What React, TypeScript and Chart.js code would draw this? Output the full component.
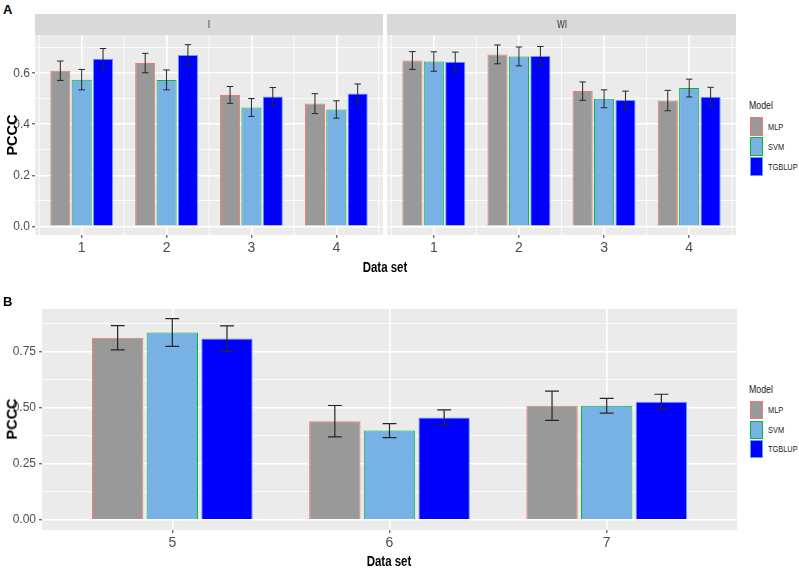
import React, { useEffect, useRef } from 'react';
import { Chart, registerables } from 'chart.js';

Chart.register(...registerables);

// ---------- data ----------
const modelNames = ['MLP', 'SVM', 'TGBLUP'];
const dataSetsA = [1, 2, 3, 4];
const dataSetsB = [5, 6, 7];

// Panel A, facet "I"
const mlpI = [0.61, 0.64, 0.515, 0.481];
const mlpIErr = [0.038, 0.038, 0.033, 0.039];
const svmI = [0.575, 0.574, 0.466, 0.458];
const svmIErr = [0.04, 0.039, 0.035, 0.034];
const tgblupI = [0.657, 0.672, 0.509, 0.521];
const tgblupIErr = [0.04, 0.04, 0.035, 0.037];

// Panel A, facet "WI"
const mlpWI = [0.65, 0.674, 0.53, 0.493];
const mlpWIErr = [0.035, 0.037, 0.036, 0.04];
const svmWI = [0.646, 0.666, 0.5, 0.542];
const svmWIErr = [0.038, 0.037, 0.035, 0.035];
const tgblupWI = [0.645, 0.668, 0.495, 0.508];
const tgblupWIErr = [0.038, 0.037, 0.035, 0.037];

// Panel B
const mlpB = [0.812, 0.44, 0.509];
const mlpBErr = [0.054, 0.07, 0.065];
const svmB = [0.835, 0.398, 0.509];
const svmBErr = [0.062, 0.031, 0.033];
const tgblupB = [0.808, 0.456, 0.527];
const tgblupBErr = [0.057, 0.034, 0.033];

// tick values / labels
const yTicksA = [0, 0.1, 0.2, 0.3, 0.4, 0.5, 0.6, 0.7];
const yLabelsA = ['0.0', '', '0.2', '', '0.4', '', '0.6', ''];
const xMinorA = [0.5, 1.5, 2.5, 3.5, 4.5];
const yTicksB = [0, 0.125, 0.25, 0.375, 0.5, 0.625, 0.75, 0.875];
const yLabelsB = ['0.00', '', '0.25', '', '0.50', '', '0.75', ''];
const xMinorB: number[] = [];

// ---------- styles ----------
const fillColors = ['#999999', '#78B2E4', '#0000FF'];
const borderColors = ['#F8766D', '#00BA38', '#619CFF'];
const SANS = "'Liberation Sans', Arial, sans-serif";

const panelPlugin = {
  id: 'panel',
  beforeDraw(chart: any) {
    const { ctx, chartArea: a } = chart;
    ctx.save();
    ctx.fillStyle = '#EBEBEB';
    ctx.fillRect(a.left, a.top, a.right - a.left, a.bottom - a.top);
    ctx.restore();
  },
  beforeDatasetsDraw(chart: any, _args: any, opts: any) {
    const { ctx, chartArea: a } = chart;
    const xScale = chart.scales.x;
    ctx.save();
    ctx.strokeStyle = '#FFFFFF';
    ctx.lineWidth = 0.8;
    (opts.xMinor || []).forEach((v: number) => {
      const x = xScale.getPixelForValue(v);
      ctx.beginPath();
      ctx.moveTo(x, a.top);
      ctx.lineTo(x, a.bottom);
      ctx.stroke();
    });
    ctx.restore();
  },
  afterDatasetsDraw(chart: any, _args: any, opts: any) {
    const { ctx } = chart;
    const yScale = chart.scales.y;
    ctx.save();
    ctx.strokeStyle = opts.color || '#262626';
    ctx.lineWidth = opts.lineWidth || 1;
    chart.data.datasets.forEach((ds: any, di: number) => {
      const meta = chart.getDatasetMeta(di);
      meta.data.forEach((el: any, i: number) => {
        const v = ds.data[i].y;
        const e = ds.errors[i];
        const yT = yScale.getPixelForValue(v + e);
        const yB = yScale.getPixelForValue(v - e);
        const half = (el.width * (opts.capRatio || 0.3)) / 2;
        const x = el.x;
        ctx.beginPath();
        ctx.moveTo(x, yT);
        ctx.lineTo(x, yB);
        ctx.moveTo(x - half, yT);
        ctx.lineTo(x + half, yT);
        ctx.moveTo(x - half, yB);
        ctx.lineTo(x + half, yB);
        ctx.stroke();
      });
    });
    ctx.restore();
  },
};

type PanelProps = {
  left: number; top: number; width: number; height: number;
  categories: number[]; values: number[][]; errors: number[][];
  xMin: number; xMax: number; xMinor: number[];
  yMin: number; yMax: number; yTicks: number[]; yLabels: string[];
  showY: boolean; yAxisWidth: number; xAxisHeight: number;
  yFont: number; xFont: number; yPad: number; capRatio: number; errWidth: number;
};

function BarPanel(p: PanelProps) {
  const ref = useRef<HTMLCanvasElement>(null);
  useEffect(() => {
    const chart = new Chart(ref.current as HTMLCanvasElement, {
      type: 'bar',
      data: {
        datasets: modelNames.map((name, k) => ({
          label: name,
          data: p.categories.map((c, i) => ({ x: c, y: p.values[k][i] })),
          errors: p.errors[k],
          backgroundColor: fillColors[k],
          borderColor: borderColors[k],
          borderWidth: 1,
          categoryPercentage: 0.755,
          barPercentage: 0.94,
        })) as any,
      },
      options: {
        animation: false,
        responsive: false,
        maintainAspectRatio: false,
        layout: { padding: 0 },
        plugins: {
          legend: { display: false },
          tooltip: { enabled: false },
          panel: { capRatio: p.capRatio, lineWidth: p.errWidth, color: '#262626', xMinor: p.xMinor },
        } as any,
        scales: {
          x: {
            type: 'linear',
            offset: false,
            min: p.xMin,
            max: p.xMax,
            afterBuildTicks: (s: any) => { s.ticks = p.categories.map((v) => ({ value: v })); },
            afterFit: (s: any) => { s.height = p.xAxisHeight; s.paddingLeft = 0; s.paddingRight = 0; },
            ticks: {
              autoSkip: false,
              maxRotation: 0,
              padding: 2,
              color: '#4D4D4D',
              font: { family: SANS, size: p.xFont },
              callback: (v: any) => String(v),
            },
            grid: {
              offset: false,
              color: '#FFFFFF',
              lineWidth: 1.6,
              tickColor: '#333333',
              tickLength: 3,
              tickWidth: 1,
            },
            border: { display: false },
          },
          y: {
            type: 'linear',
            min: p.yMin,
            max: p.yMax,
            afterBuildTicks: (s: any) => { s.ticks = p.yTicks.map((v) => ({ value: v })); },
            afterFit: (s: any) => { s.width = p.yAxisWidth; s.paddingTop = 0; s.paddingBottom = 0; },
            ticks: {
              display: p.showY,
              autoSkip: false,
              padding: p.yPad,
              color: '#4D4D4D',
              font: { family: SANS, size: p.yFont },
              callback: (_v: any, i: number) => p.yLabels[i],
            },
            grid: {
              color: '#FFFFFF',
              lineWidth: (c: any) => (c.index % 2 === 0 ? 1.6 : 0.8),
              tickColor: (c: any) => (c.index % 2 === 0 ? '#333333' : 'rgba(0,0,0,0)'),
              drawTicks: p.showY,
              tickLength: p.showY ? 3 : 0,
              tickWidth: 1,
            },
            border: { display: false },
          },
        },
      } as any,
      plugins: [panelPlugin as any],
    });
    return () => chart.destroy();
  }, []);
  return (
    <canvas
      ref={ref}
      width={p.width}
      height={p.height}
      style={{ position: 'absolute', left: p.left, top: p.top, width: p.width, height: p.height }}
    />
  );
}

function Txt(props: { x: number; y: number; text: string; size: number; bold?: boolean; color?: string; align?: 'left' | 'center'; rotate?: boolean; squeeze?: number }) {
  const { x, y, text, size, bold, color, align, rotate } = props;
  const sq = props.squeeze ?? 0.82;
  const base: React.CSSProperties = {
    position: 'absolute',
    left: x,
    top: y,
    fontFamily: SANS,
    fontSize: size,
    fontWeight: bold ? 'bold' : 'normal',
    color: color || '#000',
    whiteSpace: 'nowrap',
    lineHeight: 1,
  };
  let transform = `translate(0,-50%) scaleX(${sq})`;
  let origin = 'left center';
  if (align === 'center') { transform = `translate(-50%,-50%) scaleX(${sq})`; origin = 'center center'; }
  if (rotate) { transform = `translate(-50%,-50%) rotate(-90deg) scaleX(${sq})`; origin = 'center center'; }
  return <div style={{ ...base, transform, transformOrigin: origin }}>{text}</div>;
}

function Legend(props: { x: number; titleY: number; keyTop: number; keyH: number; gap: number }) {
  const { x, titleY, keyTop, keyH, gap } = props;
  return (
    <>
      <Txt x={x} y={titleY} text="Model" size={11} color="#1A1A1A" squeeze={0.8} />
      {modelNames.map((m, k) => (
        <React.Fragment key={m}>
          <div
            style={{
              position: 'absolute',
              left: x + 1,
              top: keyTop + k * (keyH + gap),
              width: 13,
              height: keyH,
              boxSizing: 'border-box',
              background: fillColors[k],
              border: `1px solid ${borderColors[k]}`,
            }}
          />
          <Txt x={x + 19} y={keyTop + k * (keyH + gap) + keyH / 2} text={m} size={9.5} color="#1A1A1A" squeeze={0.78} />
        </React.Fragment>
      ))}
    </>
  );
}

export default function App() {
  useEffect(() => {
    document.body.style.margin = '0';
  }, []);
  const common = { yMin: -0.034, yMax: 0.75, yTicks: yTicksA, yLabels: yLabelsA, xMin: 0.45, xMax: 4.55, xMinor: xMinorA, categories: dataSetsA, xAxisHeight: 40, yFont: 12, xFont: 14, yPad: 2, capRatio: 0.32, errWidth: 1 };
  const strip: React.CSSProperties = { position: 'absolute', top: 14, height: 21, background: '#D9D9D9' };
  return (
    <div style={{ position: 'fixed', left: 0, top: 0, width: 799, height: 570, background: '#fff', overflow: 'hidden' }}>
      {/* Panel A */}
      <Txt x={3} y={9} text="A" size={13} bold squeeze={1} />
      <div style={{ ...strip, left: 35, width: 348 }} />
      <div style={{ ...strip, left: 387, width: 349 }} />
      <Txt x={209} y={25} text="I" size={10} color="#333333" align="center" />
      <Txt x={561.5} y={25} text="WI" size={10} color="#333333" align="center" />
      <BarPanel
        {...common}
        left={0} top={35} width={383} height={240}
        values={[mlpI, svmI, tgblupI]}
        errors={[mlpIErr, svmIErr, tgblupIErr]}
        showY={true} yAxisWidth={35}
      />
      <BarPanel
        {...common}
        left={387} top={35} width={349} height={240}
        values={[mlpWI, svmWI, tgblupWI]}
        errors={[mlpWIErr, svmWIErr, tgblupWIErr]}
        showY={false} yAxisWidth={0}
      />
      <Txt x={12} y={135} text="PCCC" size={14.5} bold rotate squeeze={1} />
      <Txt x={385} y={267} text="Data set" size={14} bold align="center" />
      <Legend x={749} titleY={105} keyTop={117} keyH={19} gap={1} />

      {/* Panel B */}
      <Txt x={3} y={301} text="B" size={13} bold squeeze={1} />
      <BarPanel
        left={0} top={309} width={737} height={251}
        categories={dataSetsB}
        values={[mlpB, svmB, tgblupB]}
        errors={[mlpBErr, svmBErr, tgblupBErr]}
        xMin={4.4} xMax={7.6} xMinor={xMinorB}
        yMin={-0.045} yMax={0.94} yTicks={yTicksB} yLabels={yLabelsB}
        showY={true} yAxisWidth={42} xAxisHeight={30}
        yFont={12} xFont={14} yPad={3} capRatio={0.27} errWidth={1.2}
      />
      <Txt x={12} y={419} text="PCCC" size={14.5} bold rotate squeeze={1} />
      <Txt x={389} y={561} text="Data set" size={14} bold align="center" />
      <Legend x={749} titleY={389} keyTop={401} keyH={18} gap={1.5} />
    </div>
  );
}
